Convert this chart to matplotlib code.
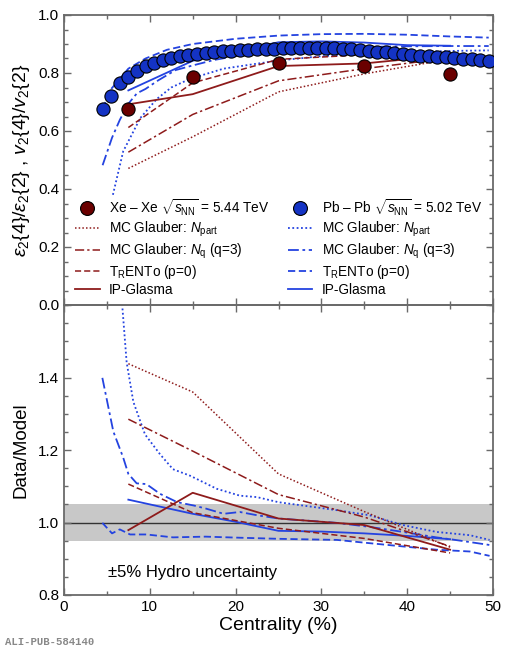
import matplotlib
matplotlib.use("Agg")
import matplotlib.pyplot as plt
from matplotlib.lines import Line2D
import numpy as np

plt.rcParams['font.family'] = ['Liberation Sans', 'DejaVu Sans']
plt.rcParams['mathtext.fontset'] = 'custom'
plt.rcParams['mathtext.rm'] = 'Liberation Sans'
plt.rcParams['mathtext.it'] = 'Liberation Sans:italic'
plt.rcParams['mathtext.bf'] = 'Liberation Sans:bold'

# ---------------- data ----------------
# Pb-Pb data v2{4}/v2{2}
pb_cent = [4.5, 5.5, 6.5, 7.5, 8.5, 9.5, 10.5, 11.5, 12.5, 13.5, 14.5, 15.5, 16.5, 17.5,
           18.5, 19.5, 20.5, 21.5, 22.5, 23.5, 24.5, 25.5, 26.5, 27.5, 28.5, 29.5, 30.5,
           31.5, 32.5, 33.5, 34.5, 35.5, 36.5, 37.5, 38.5, 39.5, 40.5, 41.5, 42.5, 43.5,
           44.5, 45.5, 46.5, 47.5, 48.5, 49.5]
pb_val = [0.675, 0.722, 0.764, 0.787, 0.807, 0.823, 0.836, 0.845, 0.852, 0.858, 0.862,
          0.866, 0.870, 0.873, 0.875, 0.877, 0.879, 0.880, 0.882, 0.883, 0.884, 0.885,
          0.885, 0.886, 0.886, 0.886, 0.886, 0.885, 0.884, 0.882, 0.880, 0.877, 0.874,
          0.871, 0.868, 0.865, 0.862, 0.860, 0.858, 0.856, 0.855, 0.853, 0.850, 0.847,
          0.844, 0.840]
pb_err = [0.015, 0.009, 0.006, 0.005, 0.004, 0.004, 0.003, 0.003, 0.003, 0.003, 0.003,
          0.003, 0.003, 0.003, 0.003, 0.003, 0.003, 0.003, 0.003, 0.003, 0.003, 0.003,
          0.003, 0.003, 0.003, 0.003, 0.003, 0.003, 0.003, 0.003, 0.003, 0.003, 0.003,
          0.003, 0.003, 0.003, 0.003, 0.003, 0.003, 0.003, 0.004, 0.004, 0.004, 0.004,
          0.004, 0.005]

# Xe-Xe data
xe_cent = [7.5, 15, 25, 35, 45]
xe_val = [0.677, 0.787, 0.833, 0.825, 0.798]

# Xe-Xe models (top panel)
xe_npart = [0.471, 0.580, 0.735, 0.797, 0.848]
xe_nq = [0.527, 0.657, 0.773, 0.815, 0.852]
xe_trento = [0.612, 0.766, 0.847, 0.863, 0.871]
xe_ipg = [0.692, 0.727, 0.824, 0.833, 0.862]

# Xe-Xe ratios (bottom panel)
xe_r_npart = [1.438, 1.360, 1.134, 1.030, 0.932]
xe_r_nq = [1.285, 1.197, 1.077, 1.015, 0.934]
xe_r_trento = [1.106, 1.027, 0.984, 0.956, 0.916]
xe_r_ipg = [0.979, 1.082, 1.011, 0.993, 0.925]

# Pb-Pb models (top panel)
pb_npart_c = [5.7, 6.9, 8.9, 10.8, 12.5, 14.7, 18.6, 22, 25, 30, 35, 40, 45, 49.5]
pb_npart = [0.380, 0.530, 0.645, 0.710, 0.750, 0.780, 0.815, 0.830, 0.843, 0.858,
            0.867, 0.872, 0.876, 0.878]
pb_nq_c = [4.5, 5.6, 6.5, 7.5, 8.5, 9.5, 11, 13, 15, 17.5, 20, 23, 27, 31, 35, 40, 45, 49.5]
pb_nq = [0.482, 0.577, 0.638, 0.694, 0.730, 0.745, 0.775, 0.810, 0.826, 0.845, 0.858,
         0.870, 0.880, 0.886, 0.890, 0.892, 0.893, 0.893]
pb_trento_c = [4.5, 5.5, 6.5, 7.5, 9.5, 12, 15, 20, 25, 30, 35, 40, 45, 49.5]
pb_trento = [0.677, 0.745, 0.780, 0.815, 0.850, 0.880, 0.900, 0.918, 0.929, 0.934,
             0.935, 0.932, 0.926, 0.922]
pb_ipg_c = [7.5, 15, 20, 25, 30, 35, 40, 45]
pb_ipg = [0.740, 0.842, 0.876, 0.906, 0.909, 0.905, 0.896, 0.894]

# Pb-Pb ratios (bottom panel)
pb_r_npart_c = [5.7, 6.84, 7.3, 8.08, 9.44, 11.2, 12.7, 14.7, 17.8, 20.5, 22.5, 25,
                31.8, 35.6, 39.5, 43.4, 47.3, 49.6]
pb_r_npart = [1.90, 1.583, 1.442, 1.333, 1.243, 1.188, 1.147, 1.129, 1.093, 1.074,
              1.070, 1.056, 1.034, 1.020, 0.993, 0.974, 0.965, 0.952]
pb_r_nq_c = [4.47, 5.75, 6.9, 7.5, 8.47, 9.6, 11.2, 13.2, 15.1, 16.6, 18.6, 20.5, 22.5,
             25, 31.8, 35.6, 39.5, 43.4, 45, 49.6]
pb_r_nq = [1.399, 1.251, 1.179, 1.134, 1.108, 1.106, 1.079, 1.056, 1.047, 1.038, 1.024,
           1.029, 1.020, 1.011, 0.999, 0.988, 0.974, 0.959, 0.954, 0.938]
pb_r_trento_c = [4.47, 5.6, 6.5, 7.7, 9.6, 12.7, 16.5, 20.5, 25, 31.8, 35.6, 39.5,
                 43.4, 47.3, 49.6]
pb_r_trento = [0.999, 0.970, 0.981, 0.967, 0.967, 0.959, 0.961, 0.958, 0.955, 0.952,
               0.943, 0.934, 0.925, 0.920, 0.908]
pb_r_ipg_c = [7.5, 15, 20, 25, 30, 35, 40, 45]
pb_r_ipg = [1.063, 1.024, 1.002, 0.977, 0.975, 0.970, 0.963, 0.954]

band_lo, band_hi = 0.95, 1.05

# ---------------- style ----------------
RED = '#8e1b1b'
RED_FACE = '#6a0000'
BLUE = '#2443e0'
BLUE_FACE = '#1433c4'
SPINE = '#6a6a6a'

LS_DOT = (0, (1, 1.4))
LS_DASHDOT = (0, (6, 2, 1.5, 2))
LS_DASH = (0, (4, 2))

W, H = 521, 650
fig = plt.figure(figsize=(W / 100, H / 100), dpi=100)
ax1 = fig.add_axes([64 / W, 1 - 305 / H, 429 / W, 290 / H])
ax2 = fig.add_axes([64 / W, 1 - 595 / H, 429 / W, 290 / H])
ax1.set_zorder(2)
ax1.patch.set_alpha(0)

for ax in (ax1, ax2):
    ax.set_xlim(0, 50)
    ax.set_xticks(np.arange(0, 51, 10))
    ax.set_xticks(np.arange(0, 51, 5), minor=True)
    ax.tick_params(which='both', direction='in', top=True, right=True, color=SPINE,
                   labelsize=11, width=1.0)
    ax.tick_params(which='major', length=5)
    ax.tick_params(which='minor', length=3)
    for s in ax.spines.values():
        s.set_color(SPINE)
        s.set_linewidth(1.3)

# ---- top panel ----
ax1.set_ylim(0, 1.0)
ax1.set_yticks(np.arange(0, 1.01, 0.2))
ax1.set_yticks(np.arange(0, 1.01, 0.05), minor=True)
ax1.set_yticklabels(['0.0', '0.2', '0.4', '0.6', '0.8', '1.0'])
ax1.tick_params(labelbottom=False)

lw = 1.1
ax1.plot(pb_npart_c, pb_npart, color=BLUE, ls=LS_DOT, lw=1.3)
ax1.plot(pb_nq_c, pb_nq, color=BLUE, ls=LS_DASHDOT, lw=1.3)
ax1.plot(pb_trento_c, pb_trento, color=BLUE, ls=LS_DASH, lw=1.3)
ax1.plot(pb_ipg_c, pb_ipg, color=BLUE, ls='-', lw=1.3)

ax1.plot(xe_cent, xe_npart, color=RED, ls=LS_DOT, lw=lw)
ax1.plot(xe_cent, xe_nq, color=RED, ls=LS_DASHDOT, lw=lw)
ax1.plot(xe_cent, xe_trento, color=RED, ls=LS_DASH, lw=lw)
ax1.plot(xe_cent, xe_ipg, color=RED, ls='-', lw=1.3)

ax1.errorbar(pb_cent, pb_val, yerr=pb_err, fmt='o', ms=9.5, mfc=BLUE_FACE, mec='black',
             mew=0.8, ecolor=BLUE_FACE, elinewidth=1.0, capsize=0, zorder=5)
ax1.plot(xe_cent, xe_val, 'o', ms=9.5, mfc=RED_FACE, mec='black', mew=0.8, zorder=6)

ax1.set_ylabel(r'$\varepsilon_{2}\{4\}/\varepsilon_{2}\{2\}$ , $v_{2}\{4\}/v_{2}\{2\}$',
               fontsize=14, labelpad=4)

# legends
sq = r'$\sqrt{s_{\rm NN}}$'
h1 = [Line2D([], [], ls='none', marker='o', ms=10, mfc=RED_FACE, mec='black', mew=0.8),
      Line2D([], [], color=RED, ls=LS_DOT, lw=lw),
      Line2D([], [], color=RED, ls=LS_DASHDOT, lw=lw),
      Line2D([], [], color=RED, ls=LS_DASH, lw=lw),
      Line2D([], [], color=RED, ls='-', lw=1.3)]
l1 = ['Xe \u2013 Xe ' + sq + ' = 5.44 TeV', r'MC Glauber: $N_{\rm part}$',
      r'MC Glauber: $N_{\rm q}$ (q=3)', r'T$_{\rm R}$ENTo (p=0)', 'IP-Glasma']
h2 = [Line2D([], [], ls='none', marker='o', ms=10, mfc=BLUE_FACE, mec='black', mew=0.8),
      Line2D([], [], color=BLUE, ls=LS_DOT, lw=1.3),
      Line2D([], [], color=BLUE, ls=LS_DASHDOT, lw=1.3),
      Line2D([], [], color=BLUE, ls=LS_DASH, lw=1.3),
      Line2D([], [], color=BLUE, ls='-', lw=1.3)]
l2 = ['Pb \u2013 Pb ' + sq + ' = 5.02 TeV', r'MC Glauber: $N_{\rm part}$',
      r'MC Glauber: $N_{\rm q}$ (q=3)', r'T$_{\rm R}$ENTo (p=0)', 'IP-Glasma']

legkw = dict(frameon=False, fontsize=9.8, handlelength=1.8, handletextpad=0.7,
             labelspacing=0.15, borderpad=0, borderaxespad=0, loc='upper left')
leg1 = ax1.legend(h1, l1, bbox_to_anchor=(0.026, 0.371), **legkw)
ax1.add_artist(leg1)
ax1.legend(h2, l2, bbox_to_anchor=(0.522, 0.371), **legkw)

# ---- bottom panel ----
ax2.set_ylim(0.8, 1.6)
ax2.set_yticks([0.8, 1.0, 1.2, 1.4])
ax2.set_yticks(np.arange(0.8, 1.601, 0.05), minor=True)
ax2.set_yticklabels(['0.8', '1.0', '1.2', '1.4'])
ax2.axhspan(band_lo, band_hi, color='#c8c8c8', lw=0, zorder=0)
ax2.axhline(1.0, color='#333333', lw=1.0, zorder=1)

ax2.plot(pb_r_npart_c, pb_r_npart, color=BLUE, ls=LS_DOT, lw=1.3)
ax2.plot(pb_r_nq_c, pb_r_nq, color=BLUE, ls=LS_DASHDOT, lw=1.3)
ax2.plot(pb_r_trento_c, pb_r_trento, color=BLUE, ls=LS_DASH, lw=1.3)
ax2.plot(pb_r_ipg_c, pb_r_ipg, color=BLUE, ls='-', lw=1.3)

ax2.plot(xe_cent, xe_r_npart, color=RED, ls=LS_DOT, lw=lw)
ax2.plot(xe_cent, xe_r_nq, color=RED, ls=LS_DASHDOT, lw=lw)
ax2.plot(xe_cent, xe_r_trento, color=RED, ls=LS_DASH, lw=lw)
ax2.plot(xe_cent, xe_r_ipg, color=RED, ls='-', lw=1.3)

ax2.text(5.1, 0.862, '\u00b15% Hydro uncertainty', fontsize=12, va='center', ha='left')
ax2.set_ylabel('Data/Model', fontsize=13.5, labelpad=6)
ax2.set_xlabel('Centrality (%)', fontsize=14, labelpad=2)

fig.text(5 / W, 1 - 642 / H, 'ALI-PUB-584140', fontsize=7.7, color='#888888',
         family='Liberation Mono', weight='bold', va='center', ha='left')

fig.savefig('out.png', dpi=100)
